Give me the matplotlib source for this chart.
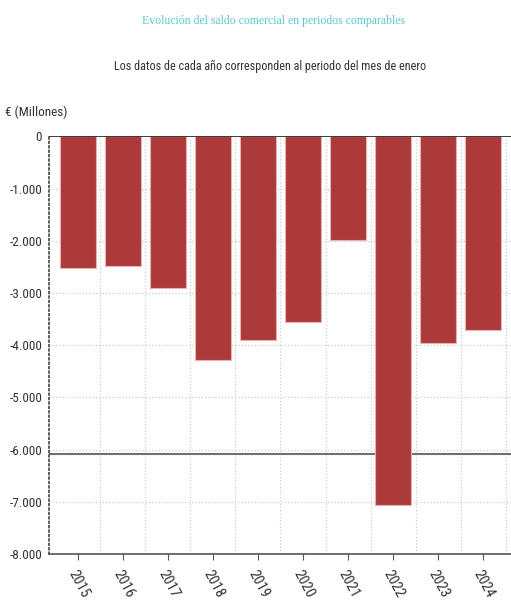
import numpy as np
import matplotlib.pyplot as plt

# Datos (millones de euros, periodo de enero)
years = ["2015", "2016", "2017", "2018", "2019", "2020", "2021", "2022", "2023", "2024"]
saldo = [-2530, -2490, -2910, -4290, -3900, -3560, -1990, -7060, -3960, -3710]
ref_line = -6080
yticks = np.arange(-8000, 1, 1000)
ytick_labels = ["-8.000", "-7.000", "-6.000", "-5.000", "-4.000", "-3.000", "-2.000", "-1.000", "0"]

narrow = ["Roboto Condensed", "Liberation Sans", "DejaVu Sans"]

fig = plt.figure(figsize=(5.11, 6.03), dpi=100)
ax = fig.add_axes([0.096, 0.081, 0.904, 0.693])

x = np.arange(len(years))
ax.bar(x, saldo, width=0.8, color="#ad3a3a", edgecolor="#e8b0b0", linewidth=0.8, zorder=3)

ax.set_xlim(-0.64, 9.62)
ax.set_ylim(-8000, 0)

# rejilla
for v in yticks:
    ax.axhline(v, color="#cccccc", linestyle=":", linewidth=0.9, zorder=1)
for b in np.arange(-0.5, len(years), 1.0)[1:]:
    ax.axvline(b, color="#cccccc", linestyle=":", linewidth=0.9, zorder=1)
ax.axhline(ref_line, color="#707070", linewidth=1.5, zorder=2)
ax.axhline(0, color="#222222", linewidth=1.2, zorder=4)

for s in ["top", "right"]:
    ax.spines[s].set_visible(False)
ax.spines["left"].set_color("#444444")
ax.spines["left"].set_linewidth(1.2)
ax.spines["left"].set_linestyle(":")
ax.spines["bottom"].set_color("#555555")
ax.spines["bottom"].set_linewidth(1.2)

ax.set_yticks(yticks)
ax.set_yticklabels(ytick_labels, family=narrow, fontsize=9.5, color="#333333")
ax.tick_params(axis="y", length=0, pad=5)
ax.set_xticks(x)
ax.set_xticklabels(years, rotation=-62, ha="left", va="top", rotation_mode="anchor",
                   family=narrow, fontsize=10.5, color="#333333")
ax.tick_params(axis="x", length=4, color="#555555", pad=6)

fig.text(0.535, 0.966, "Evolución del saldo comercial en periodos comparables",
         ha="center", va="center", family="Liberation Serif", fontsize=8.5, color="#5cc6d6")
fig.text(0.528, 0.890, "Los datos de cada año corresponden al periodo del mes de enero",
         ha="center", va="center", family=narrow, fontsize=8.7, color="#333333")
fig.text(0.01, 0.814, "€ (Millones)", ha="left", va="center", family=narrow,
         fontsize=9.5, color="#333333")

fig.savefig("out.png", dpi=100)
